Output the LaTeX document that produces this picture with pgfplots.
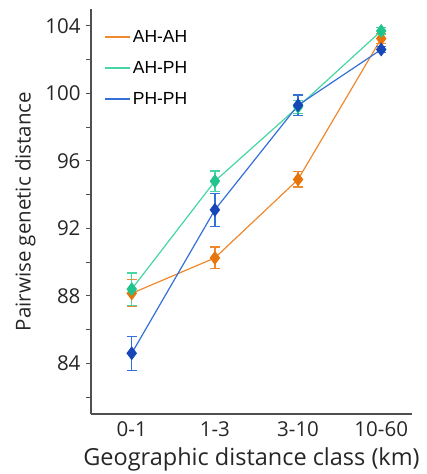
\documentclass[border=0pt]{standalone}
\usepackage{fontspec}
\setmainfont{Open Sans}
\newfontfamily\legfont{Liberation Sans}
\usepackage{pgfplots}
\pgfplotsset{compat=1.18}
\definecolor{ahahL}{HTML}{F0892E}
\definecolor{ahahM}{HTML}{E8740C}
\definecolor{ahphL}{HTML}{45D6A4}
\definecolor{ahphM}{HTML}{22C48E}
\definecolor{phphL}{HTML}{3370D8}
\definecolor{phphM}{HTML}{1646B8}
\definecolor{axgray}{HTML}{505050}
\begin{document}
\begin{tikzpicture}
\begin{axis}[
  at={(0,0)}, anchor=south west,
  scale only axis, width=321pt, height=405pt,
  xmin=-0.49, xmax=3.37, ymin=81, ymax=105,
  axis x line*=bottom, axis y line*=left,
  axis line style={axgray, line width=1.2pt},
  xtick={0,1,2,3}, xticklabels={0-1,1-3,3-10,10-60},
  x tick style={draw=none},
  ytick={84,88,92,96,100,104},
  minor ytick={82,86,90,94,98,102},
  y tick style={axgray, line width=1pt},
  major tick length=5pt, minor tick length=5pt,
  tick align=outside,
  /pgf/number format/assume math mode=true,
  tick label style={font=\fontsize{20.5}{24}\selectfont, text=black!85},
  xticklabel style={yshift=1pt},
  yticklabel style={xshift=-2pt},
  xlabel={Geographic distance class (km)},
  ylabel={Pairwise genetic distance},
  xlabel style={font=\fontsize{23.5}{27}\selectfont, text=black!85, yshift=-4pt},
  ylabel style={font=\fontsize{20.5}{24}\selectfont, text=black!85, yshift=3pt},
  legend style={draw=none, fill=none, at={(0.04,0.953)}, anchor=north west,
    font=\legfont\fontsize{17.5}{20}\selectfont, row sep=13.5pt, inner sep=0pt},
  legend cell align=left,
  legend image code/.code={\draw[line width=1.8pt,#1] (0pt,0pt) -- (25pt,0pt);},
  every axis plot/.append style={line width=1.2pt},
  error bars/error bar style={line width=1.2pt},
  error bars/error mark options={rotate=90, mark size=5pt, line width=1.2pt},
]
\addlegendimage{draw=ahahL}
\addlegendentry{AH-AH}
\addlegendimage{draw=ahphL}
\addlegendentry{AH-PH}
\addlegendimage{draw=phphL}
\addlegendentry{PH-PH}
\addplot[ahahL, mark=diamond*, mark size=6pt, mark options={ahahM, fill=ahahM}, forget plot,
  error bars/.cd, y dir=both, y explicit, error bar style={ahahL}] coordinates {
  (0,88.15) +- (0,0.8)
  (1,90.25) +- (0,0.65)
  (2,94.9) +- (0,0.45)
  (3,103.25) +- (0,0.3)
};
\addplot[ahphL, mark=diamond*, mark size=6pt, mark options={ahphM, fill=ahphM}, forget plot,
  error bars/.cd, y dir=both, y explicit, error bar style={ahphL}] coordinates {
  (0,88.4) +- (0,0.95)
  (1,94.8) +- (0,0.6)
  (2,99.2) +- (0,0.4)
  (3,103.7) +- (0,0.2)
};
\addplot[phphL, mark=diamond*, mark size=6pt, mark options={phphM, fill=phphM}, forget plot,
  error bars/.cd, y dir=both, y explicit, error bar style={phphL}] coordinates {
  (0,84.6) +- (0,1.0)
  (1,93.1) +- (0,0.97)
  (2,99.3) +- (0,0.6)
  (3,102.6) +- (0,0.2)
};
\end{axis}
\pgfresetboundingbox
\useasboundingbox (-91pt,-60pt) rectangle (336pt,414pt);
\end{tikzpicture}
\end{document}
